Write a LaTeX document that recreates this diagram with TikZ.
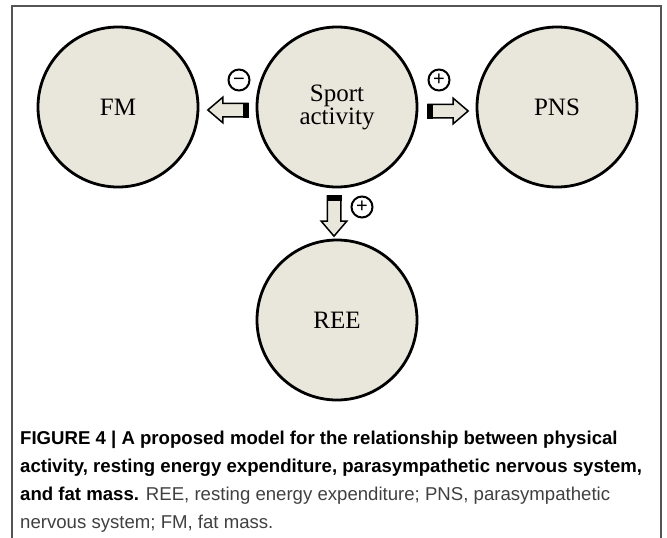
\documentclass[tikz,border=0pt]{standalone}
\usepackage{fontspec}
\setmainfont{Liberation Serif}
\newfontfamily\capfont{Liberation Sans}
\usepackage{tikz}
\usetikzlibrary{arrows.meta,positioning,shapes.arrows,calc}
\definecolor{discfill}{RGB}{233,231,219}
\definecolor{framegray}{RGB}{85,85,85}

\begin{document}
\begin{tikzpicture}[x=1pt, y=-1pt, disc/.style={circle, draw, line width=2.8pt, fill=discfill, minimum size=160pt, inner sep=0pt, align=center, font=\fontsize{25}{23}\selectfont}, barrow/.style={single arrow, draw, line width=1.5pt, fill=discfill, inner xsep=0pt, inner ysep=6pt, minimum height=40pt, single arrow head extend=6pt, single arrow tip angle=81, anchor=tail}, sign/.style={circle, draw, line width=2pt, minimum size=21pt, inner sep=0pt, font=\capfont\fontsize{20}{20}\selectfont}]
\useasboundingbox (0,0) rectangle (667,538);
\draw[framegray, line width=1.3pt] (12,545) -- (12,6) -- (661,6) -- (661,545);
\node[disc] (sport) at (337,107) {Sport\\activity};
\node[disc] (fm) at (118,107) {FM};
\node[disc] (pns) at (557,107) {PNS};
\node[disc] (ree) at (337,320) {REE};
% block arrows with a dark tail
\node[barrow, shape border rotate=180] (neg) at ([shift={(-7pt,-3pt)}]sport.west) {};
\node[barrow] (posr) at ([shift={(9pt,-4pt)}]sport.east) {};
\node[barrow, shape border rotate=270, inner xsep=6pt, inner ysep=0pt] (posd) at ([shift={(-3pt,-7pt)}]sport.south) {};
\fill (neg.before tail) rectangle ([xshift=-6pt]neg.after tail);
\fill (posr.before tail) rectangle ([xshift=6pt]posr.after tail);
\fill (posd.before tail) rectangle ([yshift=-6pt]posd.after tail);
\node[sign] (minus) at (239,80) {\smash{\raisebox{-5.8pt}{−}}};
\node[sign] (plusr) at (439,80) {+};
\node[sign] (plusd) at (362,207) {+};
\node[anchor=north west, align=left, inner sep=0pt, text=black!75, font=\capfont\fontsize{18.6}{28}\selectfont] (caption) at (20,431) {\textbf{\color{black}FIGURE 4 | A proposed model for the relationship between physical}\\ \textbf{\color{black}activity, resting energy expenditure, parasympathetic nervous system,}\\ \textbf{\color{black}and fat mass.} REE, resting energy expenditure; PNS, parasympathetic\\ nervous system; FM, fat mass.};
\end{tikzpicture}
\end{document}
